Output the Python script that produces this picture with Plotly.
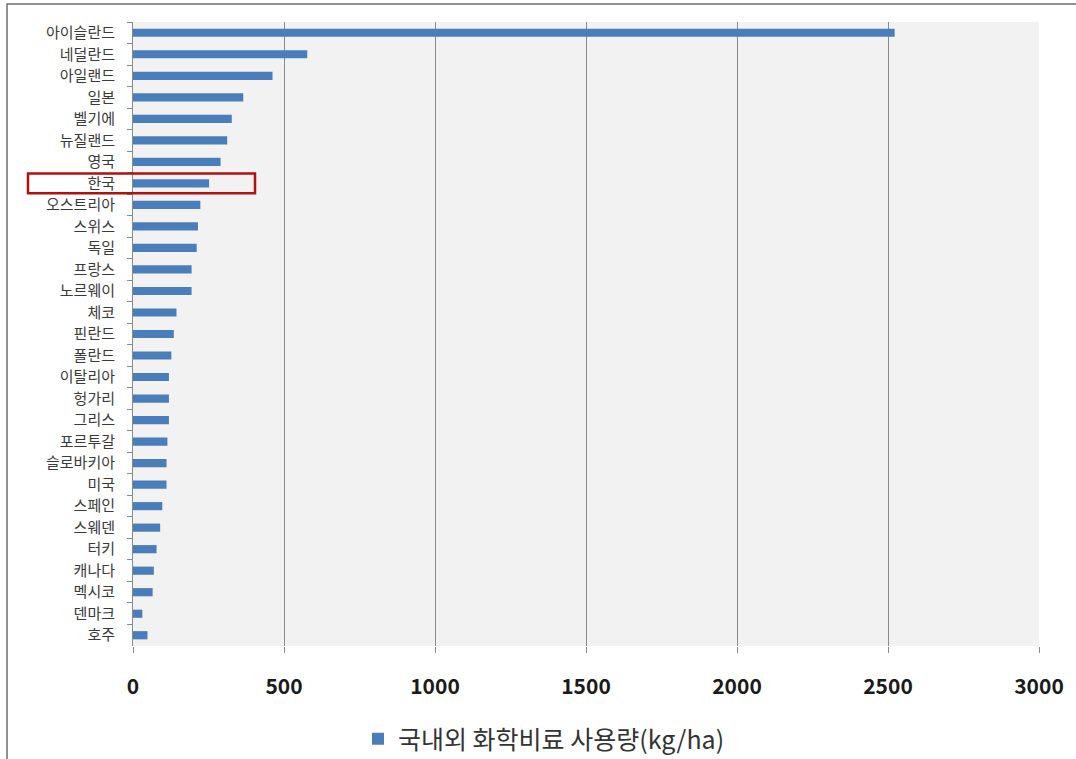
import plotly.graph_objects as go

countries = ["아이슬란드", "네덜란드", "아일랜드", "일본", "벨기에", "뉴질랜드", "영국", "한국",
             "오스트리아", "스위스", "독일", "프랑스", "노르웨이", "체코", "핀란드", "폴란드",
             "이탈리아", "헝가리", "그리스", "포르투갈", "슬로바키아", "미국", "스페인", "스웨덴",
             "터키", "캐나다", "멕시코", "덴마크", "호주"]
usage = [2522, 577, 462, 365, 327, 312, 290, 252,
         223, 215, 211, 194, 194, 144, 135, 127,
         119, 119, 119, 114, 111, 111, 97, 90,
         78, 69, 65, 31, 48]
x_ticks = [0, 500, 1000, 1500, 2000, 2500, 3000]
series_name = "국내외 화학비료 사용량(kg/ha)"
highlight = "한국"

W, H = 1076, 759
ML, MR, MT, MB = 133, 37, 22, 113
pw, ph = W - ML - MR, H - MT - MB
n = len(countries)

fig = go.Figure(go.Bar(
    x=usage, y=countries, orientation="h", width=0.38,
    marker=dict(color="#4a7ebb", line=dict(width=0)),
    name=series_name, showlegend=True,
))

# red highlight box around highlighted row (label + bar)
hi = countries.index(highlight)
yc = 1 - (hi + 0.5) / n
half = 0.46 / n
fig.add_shape(type="rect", xref="paper", yref="paper",
              x0=(28 - ML) / pw, x1=(255 - ML) / pw,
              y0=yc - half, y1=yc + half,
              line=dict(color="#b01010", width=2.5), fillcolor="rgba(0,0,0,0)")

# outer chart border
fig.add_shape(type="rect", xref="paper", yref="paper",
              x0=(7 - ML) / pw, x1=(W + 20 - ML) / pw,
              y0=-(H + 20 - MT - ph) / ph, y1=1 + (MT - 4) / ph,
              line=dict(color="#6e6e6e", width=1.5), fillcolor="rgba(0,0,0,0)")

fig.update_layout(
    width=W, height=H,
    margin=dict(l=ML, r=MR, t=MT, b=MB, autoexpand=False),
    paper_bgcolor="white", plot_bgcolor="#f2f2f2",
    font=dict(family="Noto Sans CJK KR, sans-serif", color="#333333"),
    legend=dict(orientation="h", xref="paper", yref="paper",
                x=(358 - ML) / pw, y=-(739 - MT - ph) / ph, xanchor="left", yanchor="middle",
                font=dict(size=25, color="#333333"), bgcolor="rgba(0,0,0,0)"),
    xaxis=dict(range=[0, 3000], tickvals=x_ticks, ticktext=[str(v) for v in x_ticks],
               showgrid=True, gridcolor="#8a8a8a", gridwidth=1,
               zeroline=False, showline=False,
               ticks="outside", ticklen=6, tickcolor="#8a8a8a",
               tickfont=dict(size=21, family="Noto Sans CJK KR, sans-serif", color="#1a1a1a",
                             weight="bold"),
               ticklabelstandoff=16, fixedrange=True),
    yaxis=dict(type="category", categoryorder="array", categoryarray=countries,
               autorange="reversed", showgrid=False, zeroline=False,
               showline=True, linecolor="#8a8a8a", linewidth=1,
               ticks="outside", ticklen=5, tickcolor="#8a8a8a", tickson="boundaries",
               tickfont=dict(size=15, color="#3a3a3a"), ticklabelstandoff=14),
)

fig.write_html("out.html")
